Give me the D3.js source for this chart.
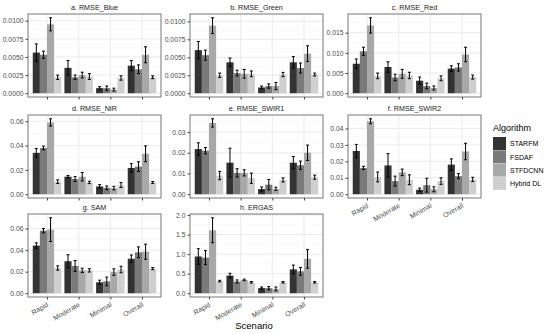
<!DOCTYPE html>
<html>
<head>
<meta charset="utf-8">
<script src="https://cdn.jsdelivr.net/npm/d3@7"></script>
<style>
  body { margin: 0; background: #fff; }
  text { font-family: "Liberation Sans", Arial, sans-serif; }
</style>
</head>
<body>
<div id="chart"></div>
<script>
var scenarios = ["Rapid", "Moderate", "Minimal", "Overall"];
var algorithms = ["STARFM", "FSDAF", "STFDCNN", "Hybrid DL"];
var fills = ["#333333", "#7a7a7a", "#a8a8a8", "#cfcfcf"];

// values per scenario, one row per algorithm (STARFM, FSDAF, STFDCNN, Hybrid DL)
var blueMean = [[0.0056, 0.0035, 0.0007, 0.0038], [0.0053, 0.0022, 0.0007, 0.0033], [0.0095, 0.0025, 0.0005, 0.0053], [0.0022, 0.0023, 0.0021, 0.0022]];
var blueErr  = [[0.0012, 0.0010, 0.0002, 0.0007], [0.0005, 0.0003, 0.0003, 0.0006], [0.0009, 0.0004, 0.0002, 0.0011], [0.0003, 0.0004, 0.0003, 0.0002]];
var greenMean = [[0.0060, 0.0043, 0.0008, 0.0043], [0.0053, 0.0028, 0.0010, 0.0035], [0.0094, 0.0027, 0.0010, 0.0055], [0.0025, 0.0027, 0.0026, 0.0026]];
var greenErr  = [[0.0012, 0.0006, 0.0002, 0.0008], [0.0007, 0.0004, 0.0003, 0.0007], [0.0011, 0.0006, 0.0005, 0.0011], [0.0003, 0.0004, 0.0003, 0.0002]];
var redMean = [[0.0073, 0.0065, 0.0031, 0.0061], [0.0104, 0.0039, 0.0018, 0.0064], [0.0168, 0.0048, 0.0013, 0.0096], [0.0043, 0.0044, 0.0037, 0.0040]];
var redErr  = [[0.0012, 0.0013, 0.0009, 0.0007], [0.0010, 0.0008, 0.0007, 0.0009], [0.0019, 0.0011, 0.0005, 0.0018], [0.0007, 0.0008, 0.0006, 0.0005]];
var nirMean = [[0.034, 0.0144, 0.0064, 0.0216], [0.038, 0.0125, 0.0053, 0.0227], [0.059, 0.0144, 0.0050, 0.0332], [0.0103, 0.0097, 0.0075, 0.0097]];
var nirErr  = [[0.0035, 0.0010, 0.0015, 0.0035], [0.0015, 0.0020, 0.0015, 0.0040], [0.0030, 0.0035, 0.0015, 0.0065], [0.0015, 0.0010, 0.0020, 0.0008]];
var swir1Mean = [[0.0218, 0.0152, 0.0025, 0.0152], [0.0210, 0.0103, 0.0046, 0.0140], [0.0344, 0.0103, 0.0026, 0.0200], [0.0090, 0.0077, 0.0069, 0.0082]];
var swir1Err  = [[0.0030, 0.0070, 0.0010, 0.0030], [0.0015, 0.0020, 0.0025, 0.0020], [0.0020, 0.0015, 0.0008, 0.0037], [0.0020, 0.0025, 0.0010, 0.0010]];
var swir2Mean = [[0.0263, 0.0175, 0.0027, 0.0180], [0.0160, 0.0080, 0.0055, 0.0110], [0.0444, 0.0133, 0.0030, 0.0260], [0.0105, 0.0088, 0.0080, 0.0090]];
var swir2Err  = [[0.0040, 0.0072, 0.0010, 0.0035], [0.0010, 0.0030, 0.0042, 0.0015], [0.0015, 0.0020, 0.0015, 0.0050], [0.0030, 0.0030, 0.0020, 0.0013]];
var samMean = [[0.0442, 0.0297, 0.0101, 0.0320], [0.0580, 0.0253, 0.0110, 0.0380], [0.0590, 0.0212, 0.0196, 0.0385], [0.0234, 0.0212, 0.0220, 0.0228]];
var samErr  = [[0.0025, 0.0060, 0.0020, 0.0035], [0.0020, 0.0050, 0.0040, 0.0050], [0.0110, 0.0020, 0.0030, 0.0070], [0.0020, 0.0015, 0.0030, 0.0010]];
var ergasMean = [[0.94, 0.45, 0.13, 0.61], [0.91, 0.30, 0.13, 0.56], [1.61, 0.34, 0.11, 0.88], [0.31, 0.28, 0.28, 0.28]];
var ergasErr  = [[0.20, 0.06, 0.03, 0.11], [0.18, 0.04, 0.04, 0.10], [0.32, 0.02, 0.05, 0.24], [0.02, 0.02, 0.02, 0.02]];

var panels = [
  {title: "a. RMSE_Blue", mean: blueMean, err: blueErr, ticks: [0, 0.0025, 0.005, 0.0075, 0.01], dec: 4},
  {title: "b. RMSE_Green", mean: greenMean, err: greenErr, ticks: [0, 0.0025, 0.005, 0.0075, 0.01], dec: 4},
  {title: "c. RMSE_Red", mean: redMean, err: redErr, ticks: [0, 0.005, 0.01, 0.015], dec: 3},
  {title: "d. RMSE_NIR", mean: nirMean, err: nirErr, ticks: [0, 0.02, 0.04, 0.06], dec: 2},
  {title: "e. RMSE_SWIR1", mean: swir1Mean, err: swir1Err, ticks: [0, 0.01, 0.02, 0.03], dec: 2},
  {title: "f. RMSE_SWIR2", mean: swir2Mean, err: swir2Err, ticks: [0, 0.01, 0.02, 0.03, 0.04], dec: 2},
  {title: "g. SAM", mean: samMean, err: samErr, ticks: [0, 0.02, 0.04, 0.06], dec: 2},
  {title: "h. ERGAS", mean: ergasMean, err: ergasErr, ticks: [0, 0.5, 1, 1.5, 2], dec: 1}
];

var svg = d3.select("#chart").append("svg")
  .attr("width", 550)
  .attr("height", 334);

var colLeft = [28, 190, 348];
var rowTop = [14, 115, 214];
var panelW = 133, panelH = 83;
var labelled = {5: true, 6: true, 7: true};

panels.forEach(function(p, i) {
  var left = colLeft[i % 3], top = rowTop[Math.floor(i / 3)];
  var g = svg.append("g").attr("transform", "translate(" + left + "," + top + ")");

  var x = d3.scalePoint().domain(scenarios).range([0, panelW]).padding(0.6);
  var step = x.step();
  var xa = d3.scaleBand().domain(algorithms).range([-0.45 * step, 0.45 * step]);

  var maxV = d3.max(p.mean, function(row, a) {
    return d3.max(row, function(v, s) { return v + p.err[a][s]; });
  });
  var y = d3.scaleLinear().domain([-0.05 * maxV, 1.05 * maxV]).range([panelH, 0]);

  // grid
  var minor = [];
  for (var k = 0; k < p.ticks.length; k++) {
    var t0 = p.ticks[k], t1 = k < p.ticks.length - 1 ? p.ticks[k + 1] : 2 * t0 - p.ticks[k - 1];
    minor.push((t0 + t1) / 2);
  }
  g.selectAll(".minor").data(minor.filter(function(v) { return y(v) > 0; }))
    .enter().append("line")
    .attr("x1", 0).attr("x2", panelW)
    .attr("y1", function(d) { return y(d); }).attr("y2", function(d) { return y(d); })
    .attr("stroke", "#f4f4f4").attr("stroke-width", 0.6);
  g.selectAll(".major").data(p.ticks)
    .enter().append("line")
    .attr("x1", 0).attr("x2", panelW)
    .attr("y1", function(d) { return y(d); }).attr("y2", function(d) { return y(d); })
    .attr("stroke", "#e8e8e8").attr("stroke-width", 0.9);
  g.selectAll(".vgrid").data(scenarios)
    .enter().append("line")
    .attr("x1", function(d) { return x(d); }).attr("x2", function(d) { return x(d); })
    .attr("y1", 0).attr("y2", panelH)
    .attr("stroke", "#e8e8e8").attr("stroke-width", 0.9);

  // bars and error bars
  algorithms.forEach(function(alg, a) {
    scenarios.forEach(function(sc, s) {
      var v = p.mean[a][s], e = p.err[a][s];
      var bx = x(sc) + xa(alg);
      var cx = bx + xa.bandwidth() / 2;
      g.append("rect")
        .attr("x", bx).attr("width", xa.bandwidth())
        .attr("y", y(v)).attr("height", y(0) - y(v))
        .attr("fill", fills[a]);
      g.append("line")
        .attr("x1", cx).attr("x2", cx)
        .attr("y1", y(v - e)).attr("y2", y(v + e))
        .attr("stroke", "#000").attr("stroke-width", 1);
      [v - e, v + e].forEach(function(yy) {
        g.append("line")
          .attr("x1", cx - 1.5).attr("x2", cx + 1.5)
          .attr("y1", y(yy)).attr("y2", y(yy))
          .attr("stroke", "#000").attr("stroke-width", 1);
      });
    });
  });

  // border
  g.append("rect").attr("width", panelW).attr("height", panelH)
    .attr("fill", "none").attr("stroke", "#777").attr("stroke-width", 1);

  // y axis
  var yAxis = d3.axisLeft(y).tickValues(p.ticks).tickSize(2.5).tickPadding(2)
    .tickFormat(function(d) { return d.toFixed(p.dec); });
  var ya = g.append("g").call(yAxis);
  ya.select(".domain").remove();
  ya.selectAll("line").attr("stroke", "#444");
  ya.selectAll("text").attr("fill", "#4d4d4d").style("font-size", "6.8px");

  // x axis ticks
  var xAxis = d3.axisBottom(x).tickSize(2.5).tickFormat("");
  var xg = g.append("g").attr("transform", "translate(0," + panelH + ")").call(xAxis);
  xg.select(".domain").remove();
  xg.selectAll("line").attr("stroke", "#444");

  // rotated scenario labels on the bottom panels only
  if (labelled[i]) {
    g.selectAll(".xlab").data(scenarios)
      .enter().append("text")
      .attr("transform", function(d) {
        return "translate(" + (x(d) + 2) + "," + (panelH + 9) + ") rotate(-30)";
      })
      .attr("text-anchor", "end")
      .attr("fill", "#4d4d4d").style("font-size", "7px")
      .text(function(d) { return d; });
  }

  // title
  g.append("text").attr("x", panelW / 2).attr("y", -4)
    .attr("text-anchor", "middle").style("font-size", "7.2px").attr("fill", "#1a1a1a")
    .text(p.title);
});

// axis title
svg.append("text").attr("x", 254).attr("y", 329)
  .attr("text-anchor", "middle").style("font-size", "9.5px").attr("fill", "#000")
  .text("Scenario");

// legend
var leg = svg.append("g").attr("transform", "translate(493,121)");
leg.append("text").attr("x", 0).attr("y", 10).style("font-size", "9px").attr("fill", "#000")
  .text("Algorithm");
algorithms.forEach(function(alg, a) {
  leg.append("rect").attr("x", 0).attr("y", 16 + a * 13.3).attr("width", 13).attr("height", 13)
    .attr("fill", fills[a]);
  leg.append("text").attr("x", 17).attr("y", 16 + a * 13.3 + 9.2)
    .style("font-size", "7px").attr("fill", "#000").text(alg);
});
</script>
</body>
</html>
